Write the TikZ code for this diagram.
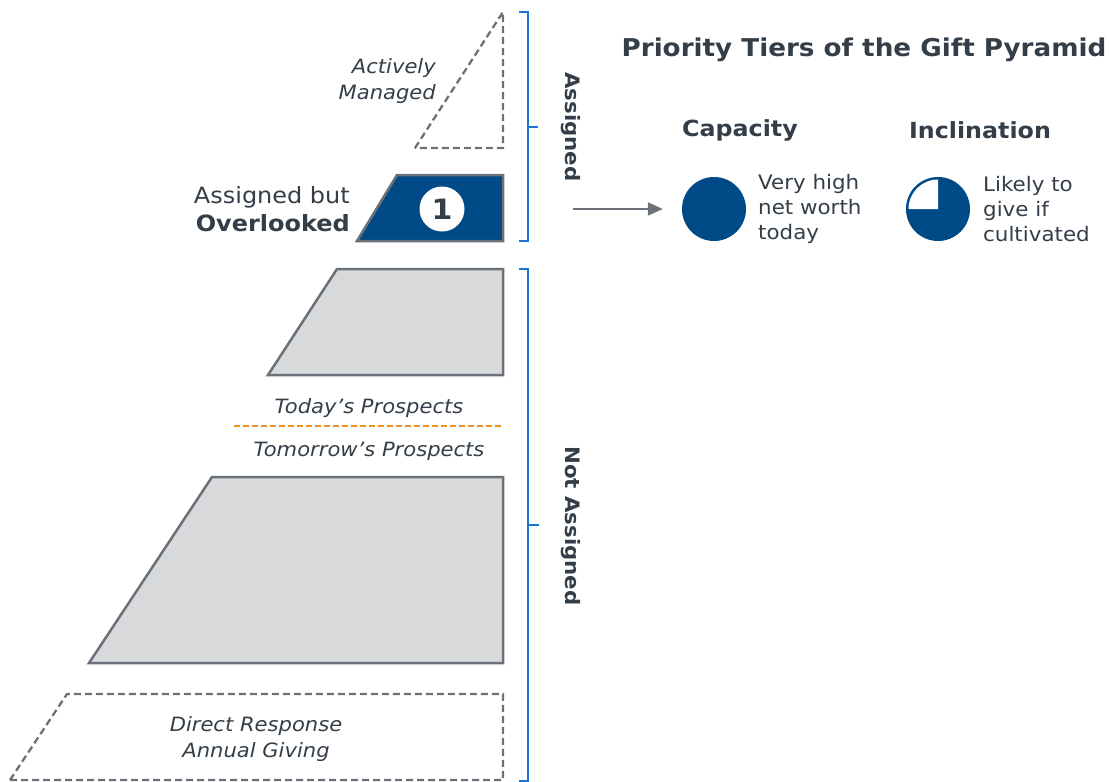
\documentclass[tikz,border=0pt]{standalone}
\usepackage{fontspec}
\setmainfont{DejaVu Sans}[FakeStretch=1.07]
\usetikzlibrary{arrows.meta}
\definecolor{txt}{HTML}{333E48}
\definecolor{navy}{HTML}{004A87}
\definecolor{brk}{HTML}{1A76D2}
\definecolor{edge}{HTML}{6B7178}
\definecolor{tierfill}{HTML}{D8D9DB}
\definecolor{orng}{HTML}{F0901E}
\tikzset{
  lbl/.style={text=txt, font=\fontsize{19.7}{25.5}\selectfont\itshape, align=center, inner sep=0pt},
  big/.style={text=txt, font=\fontsize{22.4}{28}\selectfont, inner sep=0pt},
  side/.style={text=txt, font=\fontsize{19.9}{25}\selectfont\bfseries, inner sep=0pt, rotate=-90},
  dashtier/.style={draw=edge, line width=2.3pt, dash pattern=on 7pt off 4pt},
  soltier/.style={draw=edge, line width=2.5pt},
  bracket/.style={draw=brk, line width=2.5pt},
  info/.style={text=txt, font=\fontsize{20}{25}\selectfont, align=left, inner sep=0pt, anchor=west},
  head/.style={text=txt, font=\fontsize{22.2}{28}\selectfont\bfseries, inner sep=0pt},
}
\begin{document}
\begin{tikzpicture}[x=1pt,y=-1pt]
\useasboundingbox (0,0) rectangle (1109,782);
% tiers
\draw[dashtier] (415,148) -- (503,12) -- (503,148) -- cycle;
\node[lbl, align=right, anchor=east] (am) at (436,81) {Actively\\Managed};
\draw[soltier, fill=navy] (357,241) -- (397,175) -- (503,175) -- (503,241) -- cycle;
\node[circle, fill=white, minimum size=45pt, inner sep=0pt, text=txt, font=\fontsize{28}{30}\selectfont\bfseries] (one) at (442,209) {1};
\node[big, align=right, anchor=east] (abo) at (350,209) {Assigned but\\\textbf{Overlooked}};
\draw[soltier, fill=tierfill] (268,375) -- (337,269) -- (503,269) -- (503,375) -- cycle;
\node[lbl] (today) at (369,408) {Today’s Prospects};
\draw[orng, line width=2pt, dash pattern=on 6pt off 3pt] (234,426) -- (503,426);
\node[lbl] (tomorrow) at (369,451) {Tomorrow’s Prospects};
\draw[soltier, fill=tierfill] (89,663) -- (212,477) -- (503,477) -- (503,663) -- cycle;
\draw[dashtier] (10,780) -- (67,694) -- (503,694) -- (503,780) -- cycle;
\node[lbl] (dr) at (256,739) {Direct Response\\Annual Giving};
% brackets
\draw[bracket] (519,12) -- (528,12) -- (528,241) -- (519,241);
\draw[bracket] (528,127) -- (538,127);
\draw[bracket] (519,269) -- (528,269) -- (528,781) -- (519,781);
\draw[bracket] (528,525) -- (539,525);
\node[side] (asg) at (571,127) {Assigned};
\node[side] (nasg) at (571,526) {Not Assigned};
% legend
\node[head, font=\fontsize{24.5}{28}\selectfont\bfseries] (title) at (864,50) {Priority Tiers of the Gift Pyramid};
\node[head] (caph) at (740,130) {Capacity};
\node[head] (inch) at (980,130) {Inclination};
\node[circle, fill=navy, minimum size=64pt, inner sep=0pt] (cap) at (714,209) {};
\node[circle, fill=navy, minimum size=64pt, inner sep=0pt] (inc) at (938,209) {};
\fill[white] (inc.center) -- ([xshift=-29.5pt]inc.center) arc[start angle=180, end angle=90, radius=29.5pt] -- cycle;
\node[info] (capt) at (758,209) {Very high\\net worth\\today};
\node[info] (inct) at (983,209) {Likely to\\give if\\cultivated};
\coordinate (arst) at (573,209);
\draw[edge, line width=2pt, shorten >=19pt, -{Triangle[length=15pt,width=13pt]}] (arst) -- (cap.west);
\end{tikzpicture}
\end{document}
